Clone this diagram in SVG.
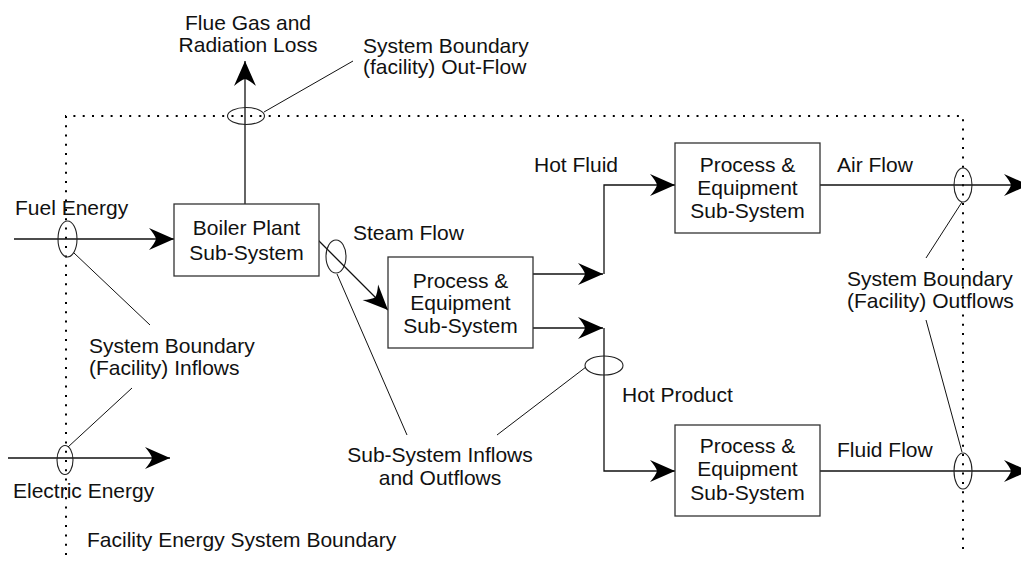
<svg xmlns="http://www.w3.org/2000/svg" width="1021" height="561" viewBox="0 0 1021 561">
<style>
text{font-family:"Liberation Sans",Arial,sans-serif;font-size:21px;fill:#111}
.c{text-anchor:middle}
.box{fill:#fff;stroke:#333;stroke-width:1.3}
.flow{fill:none;stroke:#111;stroke-width:1.3}
.lead{fill:none;stroke:#111;stroke-width:1}
.ell{fill:none;stroke:#222;stroke-width:1.1}
.bound{fill:none;stroke:#000;stroke-width:2;stroke-dasharray:2 7.3}
</style>
<defs>
<marker id="arr" viewBox="-26 -12 27 24" refX="0" refY="0" markerWidth="27" markerHeight="24" markerUnits="userSpaceOnUse" orient="auto">
<path d="M0,0 L-25,-11 Q-19,-4 -18,0 Q-19,4 -25,11 Z" fill="#000"/>
</marker>
</defs>
<path class="bound" d="M66,555 V116 H963 V555"/>
<g id="connectors">
<path class="flow" d="M14,239 H174" marker-end="url(#arr)"/>
<path class="flow" d="M8,458 H170" marker-end="url(#arr)"/>
<path class="flow" d="M245,204 V61" marker-end="url(#arr)"/>
<path class="flow" d="M318,240 L388,310" marker-end="url(#arr)"/>
<path class="flow" d="M533,274 H603" marker-end="url(#arr)"/>
<path class="flow" d="M604,274 V185 H675" marker-end="url(#arr)"/>
<path class="flow" d="M533,328 H603" marker-end="url(#arr)"/>
<path class="flow" d="M604,328 V471 H675" marker-end="url(#arr)"/>
<path class="flow" d="M820,185 H1029" marker-end="url(#arr)"/>
<path class="flow" d="M820,471 H1029" marker-end="url(#arr)"/>
</g>
<g id="boundary-markers">
<ellipse class="ell" cx="246" cy="116" rx="18.5" ry="8.5"/>
<ellipse class="ell" cx="67.5" cy="239" rx="9.5" ry="18"/>
<ellipse class="ell" cx="65" cy="460" rx="8" ry="14.5"/>
<ellipse class="ell" cx="336" cy="256.5" rx="10" ry="16.5"/>
<ellipse class="ell" cx="604" cy="365.5" rx="19" ry="9.5"/>
<ellipse class="ell" cx="963" cy="185" rx="9" ry="17"/>
<ellipse class="ell" cx="963" cy="471" rx="9" ry="18"/>
<path class="lead" d="M264,112 L353,61"/>
<path class="lead" d="M74,253 L150,325"/>
<path class="lead" d="M68,447 L132,388"/>
<path class="lead" d="M337,274 L407,435"/>
<path class="lead" d="M586,367 L497,435"/>
<path class="lead" d="M962,202 L926,258"/>
<path class="lead" d="M926,320 L962,452"/>
</g>
<g id="boiler">
<rect class="box" x="174" y="204" width="145" height="72"/>
<text class="c" x="246.5" y="235">Boiler Plant</text>
<text class="c" x="246.5" y="260">Sub-System</text>
</g>
<g id="process1">
<rect class="box" x="388" y="257" width="145" height="91"/>
<text class="c" x="460.5" y="288">Process &amp;</text>
<text class="c" x="460.5" y="310">Equipment</text>
<text class="c" x="460.5" y="333">Sub-System</text>
</g>
<g id="process2">
<rect class="box" x="675" y="143" width="145" height="90"/>
<text class="c" x="747.5" y="172">Process &amp;</text>
<text class="c" x="747.5" y="195">Equipment</text>
<text class="c" x="747.5" y="218">Sub-System</text>
</g>
<g id="process3">
<rect class="box" x="675" y="425" width="145" height="91"/>
<text class="c" x="747.5" y="453">Process &amp;</text>
<text class="c" x="747.5" y="476">Equipment</text>
<text class="c" x="747.5" y="500">Sub-System</text>
</g>
<g id="labels">
<text class="c" x="248" y="30">Flue Gas and</text>
<text class="c" x="248" y="52">Radiation Loss</text>
<text x="363" y="53">System Boundary</text>
<text x="363" y="74">(facility) Out-Flow</text>
<text x="534" y="172">Hot Fluid</text>
<text x="837" y="172">Air Flow</text>
<text x="15" y="215">Fuel Energy</text>
<text x="353" y="240">Steam Flow</text>
<text x="89" y="353">System Boundary</text>
<text x="89" y="375">(Facility) Inflows</text>
<text x="847" y="286">System Boundary</text>
<text x="847" y="308">(Facility) Outflows</text>
<text x="622" y="402">Hot Product</text>
<text x="837" y="457">Fluid Flow</text>
<text class="c" x="440" y="462">Sub-System Inflows</text>
<text class="c" x="440" y="485">and Outflows</text>
<text x="13" y="498">Electric Energy</text>
<text x="87" y="547">Facility Energy System Boundary</text>
</g>
</svg>
